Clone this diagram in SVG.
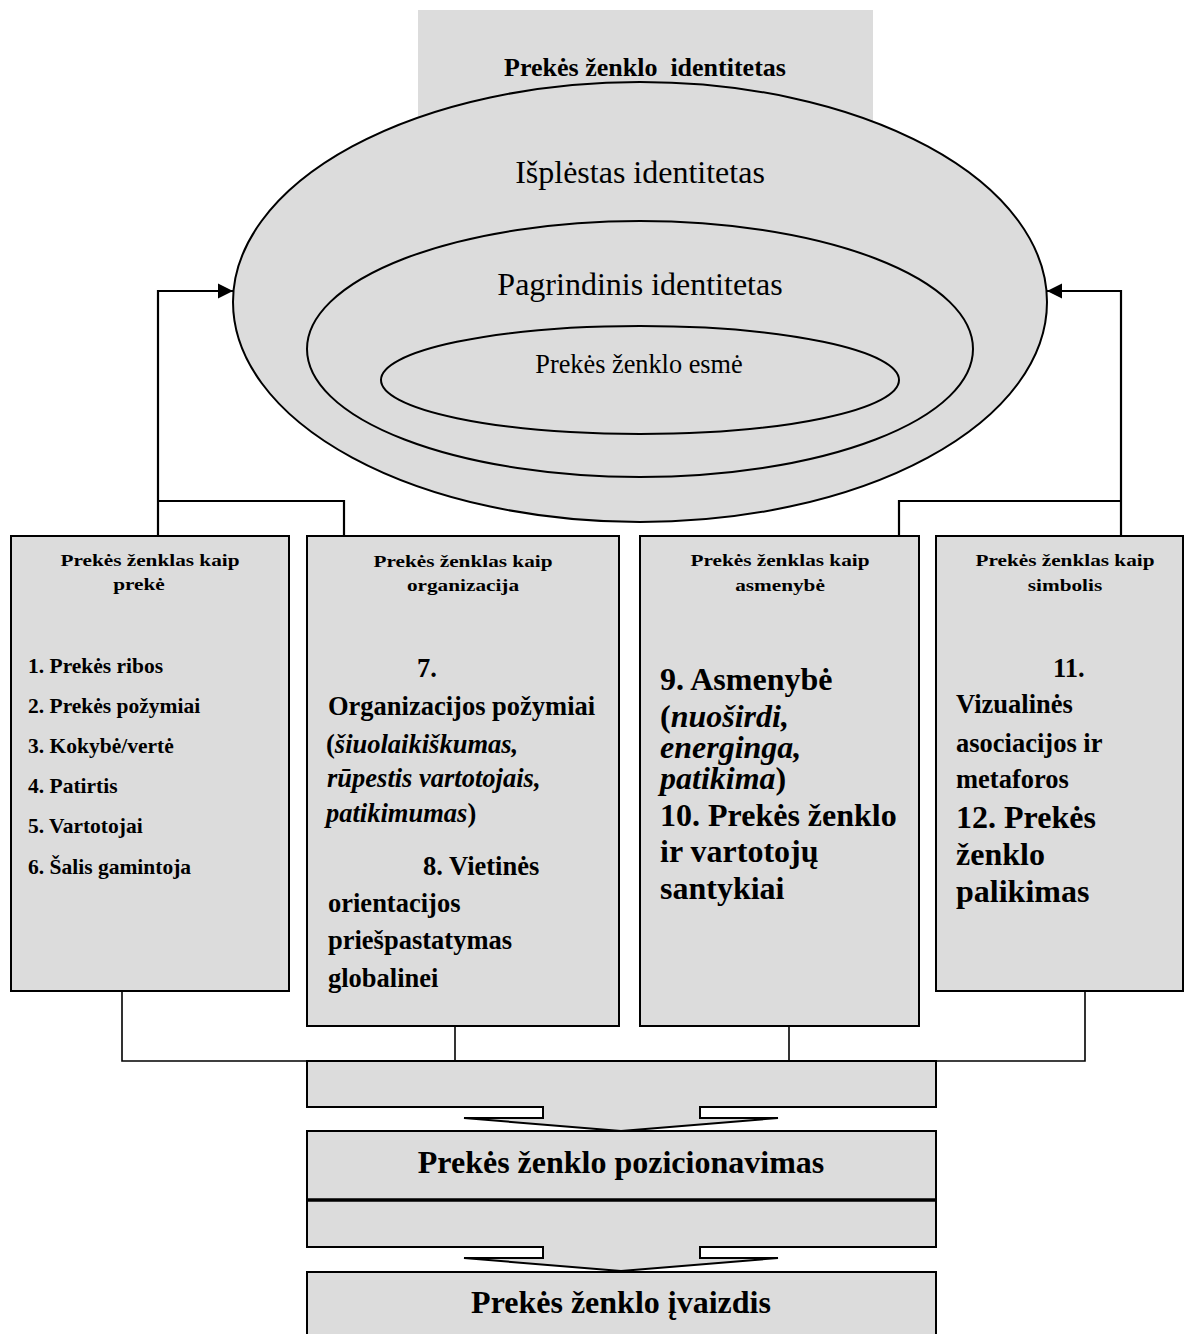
<svg xmlns="http://www.w3.org/2000/svg" width="1185" height="1334" viewBox="0 0 1185 1334">
  <defs>
    <style>
      text { font-family: "Liberation Serif", "Times New Roman", serif; fill: #000; }
      .box { fill: #dcdcdc; stroke: #000; stroke-width: 2; }
      .ell { fill: #dcdcdc; stroke: #000; stroke-width: 2; }
      .ln { fill: none; stroke: #000; stroke-width: 2.2; }
      .ln2 { fill: none; stroke: #000; stroke-width: 1.6; }
      .hd { font-size: 17px; font-weight: bold; text-anchor: middle; }
      .s21 { font-size: 21.5px; font-weight: bold; }
      .s26 { font-size: 26.5px; font-weight: bold; }
      .s32 { font-size: 32px; font-weight: bold; }
      .mid { text-anchor: middle; }
      .it { font-style: italic; }
    </style>
    <marker id="ah" markerWidth="16" markerHeight="16" refX="15" refY="8" orient="auto" markerUnits="userSpaceOnUse">
      <path d="M0,0.5 L15,8 L0,15.5 Z" fill="#000"/>
    </marker>
  </defs>

  <rect width="1185" height="1334" fill="#fff"/>

  <!-- identity title block behind the ellipses -->
  <g id="identity-title">
    <rect x="418" y="10" width="455" height="130" fill="#dcdcdc"/>
    <text class="mid" x="645" y="76" font-size="26" font-weight="bold">Prekės ženklo&#160; identitetas</text>
  </g>

  <!-- nested identity ellipses -->
  <g id="extended-identity">
    <ellipse class="ell" cx="640" cy="302" rx="407" ry="220"/>
    <text class="mid" x="640" y="183" font-size="32">Išplėstas identitetas</text>
  </g>
  <g id="core-identity">
    <ellipse class="ell" cx="640" cy="349" rx="333" ry="128"/>
    <text class="mid" x="640" y="295" font-size="32">Pagrindinis identitetas</text>
  </g>
  <g id="brand-essence">
    <ellipse class="ell" cx="640" cy="380" rx="259" ry="54"/>
    <text class="mid" x="639" y="373" font-size="26.3">Prekės ženklo esmė</text>
  </g>

  <!-- connectors -->
  <g id="connectors">
    <path class="ln" d="M158,535 V291 H233" marker-end="url(#ah)"/>
    <path class="ln" d="M158,501 H344 V535"/>
    <path class="ln" d="M1121,535 V291 H1047" marker-end="url(#ah)"/>
    <path class="ln" d="M1121,501 H899 V535"/>
    <path class="ln2" d="M122,991 V1061 H1085 V991"/>
    <path class="ln2" d="M455,1026 V1061"/>
    <path class="ln2" d="M789,1026 V1061"/>
  </g>

  <!-- brand as product -->
  <g id="brand-product">
    <rect class="box" x="11" y="536" width="278" height="455"/>
    <text class="hd" transform="translate(150,566) scale(1.25,1)">Prekės ženklas kaip</text>
    <text class="hd" transform="translate(139,590) scale(1.25,1)">prekė</text>
    <text class="s21" x="28" y="673">1. Prekės ribos</text>
    <text class="s21" x="28" y="713">2. Prekės požymiai</text>
    <text class="s21" x="28" y="753">3. Kokybė/vertė</text>
    <text class="s21" x="28" y="793">4. Patirtis</text>
    <text class="s21" x="28" y="833">5. Vartotojai</text>
    <text class="s21" x="28" y="874">6. Šalis gamintoja</text>
  </g>

  <!-- brand as organisation -->
  <g id="brand-organization">
    <rect class="box" x="307" y="536" width="312" height="490"/>
    <text class="hd" transform="translate(463,567) scale(1.25,1)">Prekės ženklas kaip</text>
    <text class="hd" transform="translate(463,591) scale(1.25,1)">organizacija</text>
    <text class="s26" x="417" y="677">7.</text>
    <text class="s26" x="328" y="715">Organizacijos požymiai</text>
    <text class="s26" x="326" y="753">(<tspan class="it">šiuolaikiškumas,</tspan></text>
    <text class="s26 it" x="327" y="787">rūpestis vartotojais,</text>
    <text class="s26" x="326" y="822"><tspan class="it">patikimumas</tspan>)</text>
    <text class="s26" x="423" y="875">8. Vietinės</text>
    <text class="s26" x="328" y="912">orientacijos</text>
    <text class="s26" x="328" y="949">priešpastatymas</text>
    <text class="s26" x="328" y="987">globalinei</text>
  </g>

  <!-- brand as person -->
  <g id="brand-person">
    <rect class="box" x="640" y="536" width="279" height="490"/>
    <text class="hd" transform="translate(780,566) scale(1.25,1)">Prekės ženklas kaip</text>
    <text class="hd" transform="translate(780,591) scale(1.25,1)">asmenybė</text>
    <text class="s32" x="660" y="690">9. Asmenybė</text>
    <text class="s32" x="660" y="727">(<tspan class="it">nuoširdi,</tspan></text>
    <text class="s32 it" x="660" y="758">energinga,</text>
    <text class="s32" x="660" y="789"><tspan class="it">patikima</tspan>)</text>
    <text class="s32" x="660" y="826">10. Prekės ženklo</text>
    <text class="s32" x="660" y="862">ir vartotojų</text>
    <text class="s32" x="660" y="899">santykiai</text>
  </g>

  <!-- brand as symbol -->
  <g id="brand-symbol">
    <rect class="box" x="936" y="536" width="247" height="455"/>
    <text class="hd" transform="translate(1065,566) scale(1.25,1)">Prekės ženklas kaip</text>
    <text class="hd" transform="translate(1065,591) scale(1.25,1)">simbolis</text>
    <text class="s26" x="1053" y="677">11.</text>
    <text class="s26" x="956" y="713">Vizualinės</text>
    <text class="s26" x="956" y="752">asociacijos ir</text>
    <text class="s26" x="956" y="788">metaforos</text>
    <text class="s32" x="956" y="828">12. Prekės</text>
    <text class="s32" x="956" y="865">ženklo</text>
    <text class="s32" x="956" y="902">palikimas</text>
  </g>

  <!-- block arrows leading to positioning and image -->
  <g id="arrow-positioning">
    <path class="box" d="M307,1061 H936 V1107 H700 V1118 H778 L621,1131 L464,1118 H543 V1107 H307 Z"/>
  </g>
  <g id="brand-positioning">
    <rect class="box" x="307" y="1131" width="629" height="69"/>
    <text class="mid s32" x="621" y="1173">Prekės ženklo pozicionavimas</text>
  </g>
  <g id="arrow-image">
    <path class="box" d="M307,1200 H936 V1247 H700 V1258 H778 L621,1271 L464,1258 H543 V1247 H307 Z"/>
    <line x1="307" y1="1200" x2="936" y2="1200" stroke="#000" stroke-width="3.5"/>
  </g>
  <g id="brand-image">
    <rect class="box" x="307" y="1272" width="629" height="70"/>
    <text class="mid s32" x="621" y="1313">Prekės ženklo įvaizdis</text>
  </g>
</svg>
